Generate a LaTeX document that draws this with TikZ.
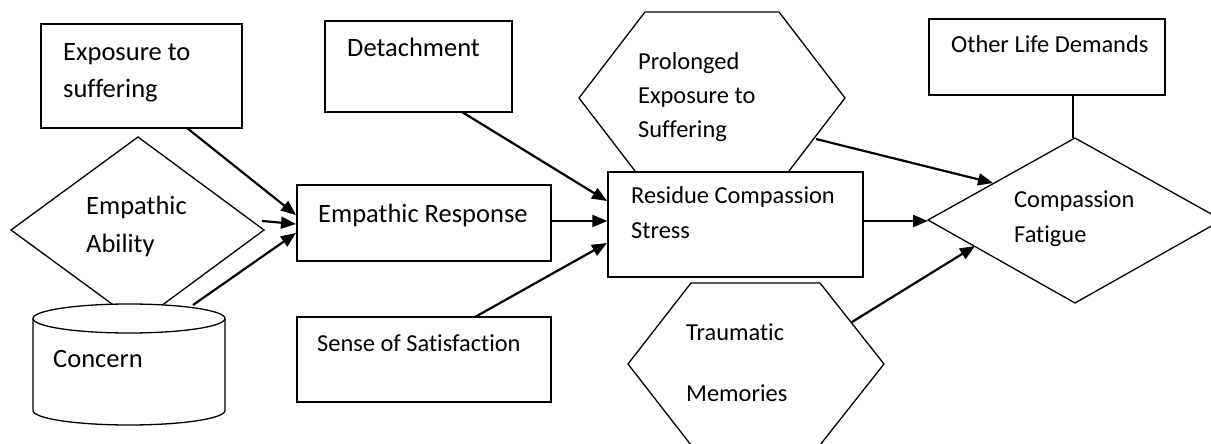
\documentclass[tikz,border=0pt]{standalone}
\usepackage{fontspec}
\setmainfont{Carlito}[RawFeature={-liga}]
\usetikzlibrary{arrows.meta}
\tikzset{
  box/.style={draw=black, line width=1.3pt, fill=white, inner sep=0pt, rectangle},
  shapeline/.style={draw=black, line width=1.3pt, fill=white, line join=miter},
  conn/.style={draw=black, line width=2.2pt, -{Triangle[length=15pt,width=12pt]}},
  plain/.style={draw=black, line width=2.2pt},
  big/.style={anchor=base west, inner sep=0pt, align=left, font=\fontsize{26.5}{37}\selectfont},
  small/.style={anchor=base west, inner sep=0pt, align=left, font=\fontsize{24.4}{35}\selectfont},
}
\begin{document}
\begin{tikzpicture}[x=1pt, y=-1pt]
\useasboundingbox (0,0) rectangle (1211,444);
\fill[white] (0,0) rectangle (1211,444);

% rectangles
\node[box, minimum width=201pt, minimum height=104pt] (exp) at (141.5,76) {};
\node[box, minimum width=187pt, minimum height=91pt] (det) at (418.5,66.5) {};
\node[box, minimum width=254pt, minimum height=76pt] (resp) at (424,223) {};
\node[box, minimum width=254pt, minimum height=85pt] (sat) at (424,359.5) {};
\node[box, minimum width=236pt, minimum height=76pt] (other) at (1047,57) {};

% Empathic Ability diamond
\path[shapeline] (11,230) -- (138,137) -- (264,230) -- (138,323) -- cycle;
\coordinate (abil) at (138,230);

% Concern cylinder
\path[shapeline] (33,318.5) -- (33,410.5) arc[start angle=180, end angle=360, x radius=96pt, y radius=14.5pt]
  -- (225,318.5) arc[start angle=0, end angle=180, x radius=96pt, y radius=14.5pt] -- cycle;
\draw[line width=1.3pt] (225,318.5) arc[start angle=0, end angle=-180, x radius=96pt, y radius=14.5pt];
\coordinate (conc) at (129,360);

% Prolonged exposure hexagon
\path[shapeline] (579,98) -- (645,12) -- (779,12) -- (845,98) -- (779,184) -- (645,184) -- cycle;
\coordinate (prol) at (712,98);

% Residue compassion stress (on top of hexagon)
\node[box, minimum width=255pt, minimum height=105pt] (res) at (735.5,224.5) {};

% Traumatic memories hexagon
\path[shapeline] (628,364) -- (691,283) -- (820,283) -- (884,364) -- (820,445) -- (691,445) -- cycle;
\coordinate (trau) at (756,364);

% Compassion fatigue diamond
\path[shapeline] (928,220) -- (1075,138) -- (1222,220) -- (1075,303) -- cycle;
\coordinate (fat) at (1075,220);

% connector end points
\coordinate (expout) at (187,128);
\coordinate (abilout) at (262,221);
\coordinate (concout) at (193,305);
\coordinate (respin1) at (296,215);
\coordinate (respin2) at (296,224);
\coordinate (respin3) at (296,233);
\coordinate (detout) at (462,112);
\coordinate (satout) at (475,317);
\coordinate (resin1) at (607,201);
\coordinate (resin3) at (607,243);
\coordinate (prolout) at (816,139);
\coordinate (fatin1) at (993,183);
\coordinate (fatin2) at (928,221);
\coordinate (trauout) at (852,322);
\coordinate (fatin3) at (975,246);
\coordinate (fattop) at (1073,138);

% connectors
\draw[conn] (expout) -- (respin1);
\draw[conn] (abilout) -- (respin2);
\draw[conn] (concout) -- (respin3);
\draw[conn] (detout) -- (resin1);
\draw[conn] (resp.east |- 0,221) -- (res.west |- 0,221);
\draw[conn] (satout) -- (resin3);
\draw[conn] (prolout) -- (fatin1);
\draw[conn] (res.east |- 0,221) -- (fatin2);
\draw[conn] (trauout) -- (fatin3);
\draw[plain] (other.south -| fattop) -- (fattop);

% texts (multi-line nodes: base anchor is the last line's baseline)
\node[big, font=\fontsize{26.5}{36}\selectfont] (texp) at (63,97) {Exposure to\\suffering};
\node[big, font=\fontsize{26.5}{38}\selectfont] (tabil) at (86,252) {Empathic\\Ability};
\node[big] (tconc) at (53,367) {Concern};
\node[big] (tresp) at (318,222) {Empathic Response};
\node[big] (tdet) at (347,57) {Detachment};
\node[small] (tsat) at (317,351) {Sense of Satisfaction};
\node[small, font=\fontsize{24.4}{34}\selectfont] (tprol) at (638,137) {Prolonged\\Exposure to\\Suffering};
\node[small] (tres) at (631,238) {Residue Compassion\\Stress};
\node[small, font=\fontsize{24.4}{61}\selectfont] (ttrau) at (686,401) {Traumatic\\Memories};
\node[small] (tother) at (951,53) {Other Life Demands};
\node[small] (tfat) at (1014,242) {Compassion\\Fatigue};
\end{tikzpicture}
\end{document}
